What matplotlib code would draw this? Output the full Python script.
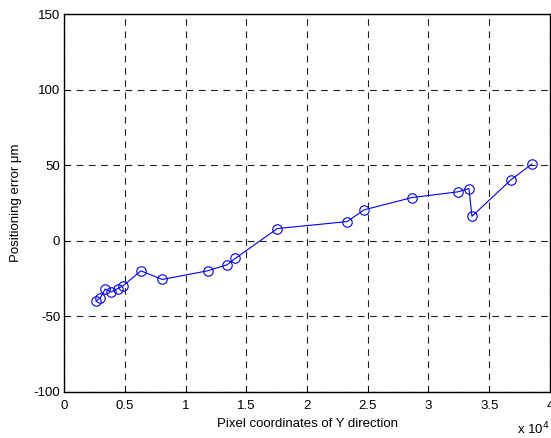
import matplotlib
matplotlib.use("Agg")
import matplotlib.pyplot as plt
from matplotlib.ticker import FuncFormatter

x_pixel = [2610, 2960, 3370, 3870, 4400, 4830, 6310, 8070, 11800, 13400, 14100,
           17550, 23300, 24700, 28640, 32430, 33330, 33580, 36800, 38520]
pos_error = [-40, -38, -32, -34, -31.7, -30, -20, -25.7, -20, -16, -11.7,
             8, 12.6, 20.4, 28.5, 32.3, 34.5, 16.1, 40.3, 50.7]

x_ticks = [0, 5000, 10000, 15000, 20000, 25000, 30000, 35000, 40000]
y_ticks = [-100, -50, 0, 50, 100, 150]

plt.rcParams['font.family'] = ['Liberation Sans', 'DejaVu Sans']
plt.rcParams['axes.unicode_minus'] = False

fig = plt.figure(figsize=(5.51, 4.38), dpi=100)
ax = fig.add_axes([0.1167, 0.1057, 0.998 - 0.1167, 0.968 - 0.1057])

ax.plot(x_pixel, pos_error, color='#0000ff', linewidth=0.8, marker='o',
        markersize=6.8, markerfacecolor='none', markeredgecolor='#0000ff',
        markeredgewidth=0.8)

ax.set_xlim(0, 40000)
ax.set_ylim(-100, 150)
ax.set_xticks(x_ticks)
ax.set_yticks(y_ticks)
ax.xaxis.set_major_formatter(FuncFormatter(lambda v, p: f"{v/1e4:g}"))
ax.grid(True, color='#222222', linestyle=(0, (6, 5)), linewidth=0.8)
ax.tick_params(direction='in', length=4, width=0.6, labelsize=9.5)
ax.tick_params(axis='x', pad=6)
ax.tick_params(axis='y', pad=3)
for s in ax.spines.values():
    s.set_linewidth(1.0)

ax.set_xlabel('Pixel coordinates of Y direction', fontsize=9.5, labelpad=4)
ax.set_ylabel('Positioning error μm', fontsize=9.5, labelpad=8)
fig.text(0.938, 0.008, r'x 10$^4$', fontsize=9.5)

fig.savefig('out.png', dpi=100)
